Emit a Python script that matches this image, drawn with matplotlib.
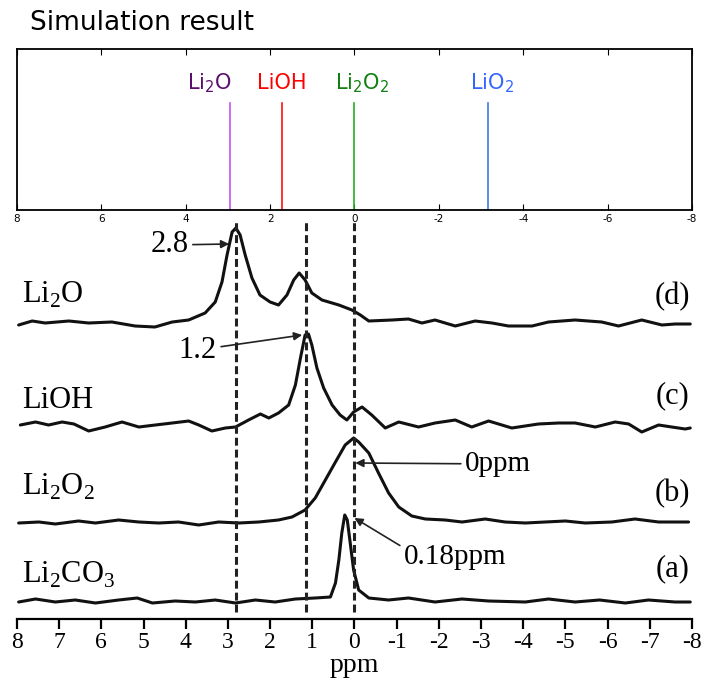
import numpy as np
import matplotlib.pyplot as plt

plt.rcParams['mathtext.fontset'] = 'custom'
plt.rcParams['mathtext.rm'] = 'Liberation Serif'
plt.rcParams['mathtext.sf'] = 'DejaVu Sans'

# Simulated chemical shifts (ppm)
sim_names = [r'Li$_\mathsf{2}$O', 'LiOH', r'Li$_\mathsf{2}$O$_\mathsf{2}$', r'LiO$_\mathsf{2}$']
sim_shift = [2.94, 1.72, 0.0, -3.17]
sim_line_colors = ['#c455f0', '#ff1010', '#20b020', '#3a7ae0']
sim_text_colors = ['#5a0f6e', '#ff0000', '#108010', '#3366ff']

# Measured 7Li NMR spectra (ppm, intensity above baseline)
li2o_ppm = [7.96, 7.64, 7.33, 6.77, 6.30, 5.75, 5.20, 4.73, 4.32, 3.93, 3.54, 3.30, 3.14, 3.02, 2.90,
            2.81, 2.71, 2.59, 2.43, 2.24, 2.00, 1.80, 1.60, 1.44, 1.31, 1.17, 1.01, 0.77, 0.37, 0.06,
            -0.14, -0.34, -0.89, -1.28, -1.60, -1.91, -2.39, -2.86, -3.26, -3.65, -4.21, -4.60, -5.23,
            -5.86, -6.26, -6.81, -7.29, -7.60, -7.96]
li2o_int = [-2, 2, 0, 2, 0, 1, -3, -4, 1, 3, 10, 21, 41, 68, 91,
            95, 88, 68, 45, 28, 21, 18, 28, 43, 50, 43, 30, 23, 18, 13,
            8, 2, 3, 4, 0, 3, -3, 2, 0, -3, -3, 1, 3,
            1, -3, 3, -2, -1, -1]

lioh_ppm = [7.92, 7.56, 7.25, 6.93, 6.65, 6.30, 5.91, 5.51, 5.11, 4.72, 4.32, 3.93, 3.69, 3.38, 3.06,
            2.82, 2.51, 2.23, 2.03, 1.80, 1.56, 1.40, 1.28, 1.17, 1.09, 1.01, 0.89, 0.73, 0.53, 0.34,
            0.18, 0.02, -0.18, -0.41, -0.73, -1.05, -1.52, -1.91, -2.39, -2.78, -3.18, -3.73, -4.36,
            -4.84, -5.23, -5.71, -6.18, -6.50, -6.81, -7.21, -7.52, -7.84, -7.96]
lioh_int = [0, 3, 0, 3, 1, -6, -2, 3, -2, 0, 2, 4, 0, -6, -3,
            -2, 5, 11, 7, 12, 20, 40, 67, 90, 91, 80, 57, 37, 20, 10,
            5, 13, 18, 10, -3, 3, -2, 2, 5, -2, 4, -3, 1,
            2, 2, -2, 3, 1, -7, 0, -2, -4, -3]

li2o2_ppm = [7.96, 7.48, 7.09, 6.54, 6.14, 5.59, 5.11, 4.64, 4.17, 3.69, 3.22, 2.74, 2.27, 1.80, 1.48,
             1.17, 0.93, 0.69, 0.45, 0.22, 0.02, -0.10, -0.34, -0.57, -0.81, -1.05, -1.36, -1.68,
             -2.15, -2.55, -3.10, -3.57, -4.05, -4.52, -5.00, -5.47, -6.10, -6.65, -7.21, -7.92]
li2o2_int = [-1, 0, -2, 1, -1, 2, 0, -1, 0, -3, 0, -1, 0, 2, 5,
             12, 24, 42, 60, 77, 84, 80, 69, 49, 29, 15, 6, 3,
             2, 0, 3, 0, -1, 0, 1, -1, 0, 3, 0, 0]

li2co3_ppm = [7.96, 7.56, 7.09, 6.62, 6.14, 5.59, 5.15, 4.79, 4.25, 3.77, 3.30, 2.82, 2.35, 1.88, 1.40,
              0.93, 0.57, 0.45, 0.37, 0.30, 0.23, 0.17, 0.10, 0.02, -0.10, -0.34, -0.81, -1.28,
              -1.91, -2.55, -3.18, -4.05, -4.60, -5.23, -5.81, -6.42, -6.97, -7.60, -7.96]
li2co3_int = [-1, 2, -1, 1, -2, 1, 3, -2, 0, -1, 1, -2, 1, -1, 2,
              3, 4, 18, 41, 68, 86, 81, 58, 31, 11, 3, 1, 3,
              -1, 2, 0, -1, 2, -1, 1, -2, 1, -1, -1]

ref_lines = [2.8, 1.15, 0.0]

fig = plt.figure(figsize=(7.07, 6.91), dpi=100)

# ---- bottom panel: measured spectra ----
ax2 = fig.add_axes([0.024, 1 - 619 / 691, 0.9547, 399 / 691])
ax2.patch.set_visible(False)
spectra = [(li2o_ppm, li2o_int, 296), (lioh_ppm, lioh_int, 194),
           (li2o2_ppm, li2o2_int, 97), (li2co3_ppm, li2co3_int, 18)]
for x, y, off in spectra:
    ax2.plot(x, np.array(y) + off, color='#111111', lw=2.2,
             solid_joinstyle='round', solid_capstyle='round')

ax2.vlines(ref_lines, 7, 397, colors='#222222', lw=2.2, linestyles=(0, (2.6, 1.3)))

serif = 'Liberation Serif'
left_labels = [(r'Li$_\mathrm{2}$O', 316), ('LiOH', 211),
               (r'Li$_\mathrm{2}$O$_\mathrm{2}$', 124), (r'Li$_\mathrm{2}$CO$_\mathrm{3}$', 36)]
for txt, yb in left_labels:
    ax2.text(7.88, yb, txt, family=serif, fontsize=22, ha='left', va='baseline')
for txt, yc in [('(d)', 322), ('(c)', 223), ('(b)', 125), ('(a)', 50)]:
    ax2.text(-7.95, yc, txt, family=serif, fontsize=22, ha='right', va='center')

arrow = dict(arrowstyle='-|>', color='#222222', lw=1.2, mutation_scale=12, shrinkA=1, shrinkB=0)
ax2.annotate('2.8', xy=(2.97, 375), xytext=(3.93, 374), ha='right', va='center',
             family=serif, fontsize=22, arrowprops=arrow)
ax2.annotate('1.2', xy=(1.24, 284), xytext=(3.26, 269), ha='right', va='center',
             family=serif, fontsize=22, arrowprops=arrow)
ax2.annotate('0ppm', xy=(-0.02, 156), xytext=(-2.62, 155), ha='left', va='center',
             family=serif, fontsize=21, arrowprops=arrow)
ax2.annotate('0.18ppm', xy=(0.0, 101), xytext=(-1.17, 62), ha='left', va='center',
             family=serif, fontsize=21, arrowprops=dict(arrow, relpos=(0, 0.85)))

ax2.set_xlim(8, -8)
ax2.set_ylim(0, 399)
for side in ['top', 'left', 'right']:
    ax2.spines[side].set_visible(False)
ax2.spines['bottom'].set_linewidth(1.6)
ax2.set_yticks([])
ax2.set_xticks(np.arange(8, -9, -1))
ax2.set_xticklabels([str(v) for v in range(8, -9, -1)], family=serif, fontsize=17)
ax2.tick_params(axis='x', direction='out', length=7, width=1.6, pad=2)
ax2.set_xlabel('ppm', family=serif, fontsize=20, labelpad=0)

# ---- top panel: simulation ----
ax1 = fig.add_axes([0.024, 1 - 210 / 691, 0.9547, 161 / 691])
for name, pos, lc, tc, dx in zip(sim_names, sim_shift, sim_line_colors, sim_text_colors, [-21, 0, 8, 4]):
    ax1.plot([pos, pos], [0, 0.665], color=lc, lw=1.2)
    ax1.annotate(name, xy=(pos, 0.79), xytext=(dx, 0), textcoords='offset pixels',
                 ha='center', va='center', color=tc, fontsize=15, family='DejaVu Sans')
ax1.set_xlim(8, -8)
ax1.set_ylim(0, 1)
ax1.set_xticks(np.arange(8, -9, -2))
ax1.set_xticklabels([str(v) for v in range(8, -9, -2)], family='DejaVu Sans', fontsize=7.5)
ax1.set_yticks([])
ax1.tick_params(axis='x', direction='in', top=True, length=4, width=0.8, pad=3)
for s in ax1.spines.values():
    s.set_linewidth(1.3)
fig.text(30 / 707, 1 - 23 / 691, 'Simulation result', fontsize=19, family='DejaVu Sans', va='center')

fig.savefig('out.png', dpi=100)
